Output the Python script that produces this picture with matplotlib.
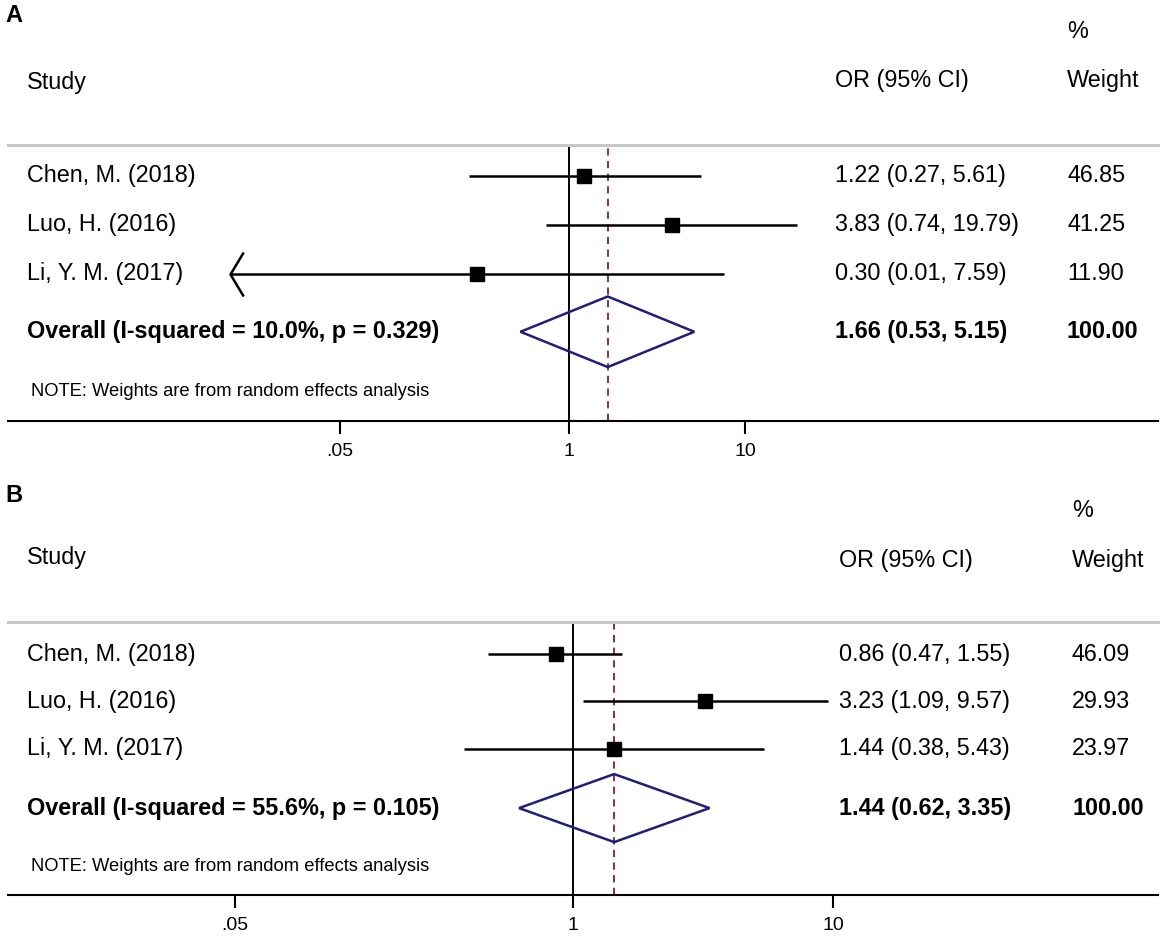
import matplotlib
matplotlib.use("Agg")
import matplotlib.pyplot as plt
from matplotlib.path import Path
from matplotlib.patches import Polygon
from matplotlib.transforms import blended_transform_factory

plt.rcParams['font.family'] = ['Liberation Sans', 'DejaVu Sans']

W, H = 1172, 938

# --- data ---
studies = ["Chen, M. (2018)", "Luo, H. (2016)", "Li, Y. M. (2017)"]

or_a = [1.22, 3.83, 0.30]
lo_a = [0.27, 0.74, 0.01]
hi_a = [5.61, 19.79, 7.59]
w_a = [46.85, 41.25, 11.90]
pooled_a = [1.66, 0.53, 5.15]
i2_a, p_a = 10.0, 0.329

or_b = [0.86, 3.23, 1.44]
lo_b = [0.47, 1.09, 0.38]
hi_b = [1.55, 9.57, 5.43]
w_b = [46.09, 29.93, 23.97]
pooled_b = [1.44, 0.62, 3.35]
i2_b, p_b = 55.6, 0.105

total_w = 100.00
tick_vals = [0.05, 1, 10]
tick_labels = [".05", "1", "10"]

# --- layout (pixels) ---
ax_left, ax_right = 8, 1158
panels = [
    dict(label="A", top=0, gray=145, axis=421, one=569, decade=176, ylim=(5.0, -0.63),
         over=3.18, note=4.4, col_or=835, col_w=1067, y_pct=32, y_head=81, y_study=83,
         ors=or_a, los=lo_a, his=hi_a, ws=w_a, pooled=pooled_a, i2=i2_a, p=p_a, floor=0.0119),
    dict(label="B", top=480, gray=622, axis=895, one=573, decade=260, ylim=(5.1, -0.68),
         over=3.26, note=4.5, col_or=839, col_w=1072, y_pct=510, y_head=560, y_study=557,
         ors=or_b, los=lo_b, his=hi_b, ws=w_b, pooled=pooled_b, i2=i2_b, p=p_b, floor=None),
]

navy = "#1f1f78"
dred = "#8b1c2c"
fs = 16.8

chevron = Path([(0.6, 1), (0, 0), (0.6, -1)], [Path.MOVETO, Path.LINETO, Path.LINETO])

fig = plt.figure(figsize=(W / 100, H / 100), dpi=100)


def fx(px):
    return px / W


def fy(py):
    return 1 - py / H


for pn in panels:
    ax = fig.add_axes([fx(ax_left), fy(pn["axis"]), (ax_right - ax_left) / W,
                       (pn["axis"] - pn["gray"]) / H])
    ax.set_xscale("log")
    ax.set_xlim(10 ** ((ax_left - pn["one"]) / pn["decade"]),
                10 ** ((ax_right - pn["one"]) / pn["decade"]))
    ax.set_ylim(*pn["ylim"])
    ax.patch.set_alpha(0)

    rows = list(range(len(studies)))
    los = [max(l, pn["floor"]) if pn["floor"] else l for l in pn["los"]]

    ax.axvline(1, color="black", lw=1.4, zorder=1)
    ax.axvline(pn["pooled"][0], color=dred, lw=1.3, ls=(0, (4, 3)), zorder=1)

    ax.hlines(rows, los, pn["his"], color="black", lw=1.8, zorder=2)
    ax.plot(pn["ors"], rows, "s", color="black", ms=10, zorder=3)
    for r, l, lc in zip(rows, pn["los"], los):
        if lc > l:
            ax.plot(lc, r, marker=chevron, ms=31.7, color="black",
                    fillstyle="none", mew=1.8, zorder=3)

    est, plo, phi = pn["pooled"]
    yo = pn["over"]
    dia = Polygon([(plo, yo), (est, yo - 0.72), (phi, yo), (est, yo + 0.72)],
                  closed=True, fill=False, edgecolor=navy, lw=1.8, zorder=3)
    ax.add_patch(dia)

    for s in ["left", "right"]:
        ax.spines[s].set_visible(False)
    ax.spines["top"].set_color("#c8c8c8")
    ax.spines["top"].set_linewidth(2.2)
    ax.spines["bottom"].set_linewidth(1.5)
    ax.set_yticks([])
    ax.minorticks_off()
    ax.set_xticks(tick_vals)
    ax.set_xticklabels(tick_labels)
    ax.tick_params(axis="x", direction="out", length=9, width=1.5,
                   labelsize=14, pad=7)

    tr = blended_transform_factory(fig.transFigure, ax.transData)

    # header
    fig.text(fx(5), fy(pn["top"] + 15), pn["label"], fontsize=17, fontweight="bold",
             ha="left", va="center")
    fig.text(fx(pn["col_w"]), fy(pn["y_pct"]), "%", fontsize=fs, ha="left", va="center")
    fig.text(fx(27), fy(pn["y_study"]), "Study", fontsize=fs, ha="left", va="center")
    fig.text(fx(pn["col_or"]), fy(pn["y_head"]), "OR (95% CI)", fontsize=fs,
             ha="left", va="center")
    fig.text(fx(pn["col_w"]), fy(pn["y_head"]), "Weight", fontsize=fs,
             ha="left", va="center")

    # study rows
    for r, name, o, l, h, w in zip(rows, studies, pn["ors"], pn["los"], pn["his"], pn["ws"]):
        ax.text(fx(27), r, name, transform=tr, fontsize=fs, ha="left", va="center")
        ax.text(fx(pn["col_or"]), r, f"{o:.2f} ({l:.2f}, {h:.2f})", transform=tr,
                fontsize=fs, ha="left", va="center")
        ax.text(fx(pn["col_w"]), r, f"{w:.2f}", transform=tr, fontsize=fs,
                ha="left", va="center")

    ax.text(fx(27), yo, f"Overall (I-squared = {pn['i2']:.1f}%, p = {pn['p']:.3f})",
            transform=tr, fontsize=fs, fontweight="bold", ha="left", va="center")
    ax.text(fx(pn["col_or"]), yo, f"{est:.2f} ({plo:.2f}, {phi:.2f})", transform=tr,
            fontsize=fs, fontweight="bold", ha="left", va="center")
    ax.text(fx(pn["col_w"]), yo, f"{total_w:.2f}", transform=tr, fontsize=fs,
            fontweight="bold", ha="left", va="center")
    ax.text(fx(31), pn["note"], "NOTE: Weights are from random effects analysis",
            transform=tr, fontsize=13.2, ha="left", va="center")

fig.savefig("out.png", dpi=100)
